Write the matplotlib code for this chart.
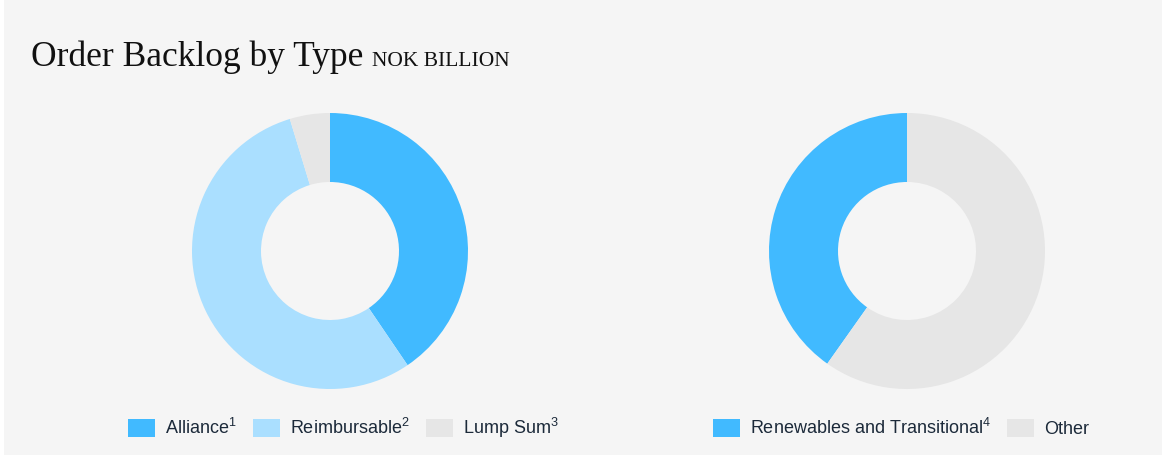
import matplotlib.pyplot as plt
from matplotlib.patches import Rectangle

plt.rcParams['font.family'] = ['Liberation Sans', 'DejaVu Sans']
plt.rcParams['mathtext.fontset'] = 'custom'
plt.rcParams['mathtext.rm'] = 'Liberation Sans'
plt.rcParams['mathtext.it'] = 'Liberation Sans'

# Data (share of order backlog)
type_labels = [r'Alliance$^1$', r'Reimbursable$^2$', r'Lump Sum$^3$']
type_values = [40.5, 54.8, 4.7]
type_colors = ['#41baff', '#aadfff', '#e6e6e6']

green_labels = [r'Renewables and Transitional$^4$', 'Other']
green_values = [40.2, 59.8]
green_colors = ['#41baff', '#e6e6e6']

W, H = 1166, 461
fig = plt.figure(figsize=(W / 100, H / 100), dpi=100)
fig.patch.set_facecolor('white')
fig.add_artist(Rectangle((4 / W, 6 / H), (W - 8) / W, (H - 6) / H,
                         transform=fig.transFigure, facecolor='#f5f5f5',
                         edgecolor='none', zorder=0))

# Title
title = fig.text(31 / W, 1 - 66 / H, 'Order Backlog by Type', family='Liberation Serif',
                 fontsize=25.5, color='#111111', va='baseline', ha='left')
fig.canvas.draw()
bb = title.get_window_extent()
fig.text(bb.x1 / W + 9 / W, 1 - 66 / H, 'NOK BILLION', family='Liberation Serif',
         fontsize=15.5, color='#111111', va='baseline', ha='left')


def donut(cx, cy, values, colors, counterclock):
    r = 138
    box = 150
    ax = fig.add_axes([(cx - box) / W, 1 - (cy + box) / H, 2 * box / W, 2 * box / H])
    wedges, _ = ax.pie(values, colors=colors, startangle=90, counterclock=counterclock,
                       radius=1, wedgeprops=dict(width=0.5, edgecolor='none'))
    ax.set_xlim(-box / r, box / r)
    ax.set_ylim(-box / r, box / r)
    ax.set_aspect('equal')
    ax.axis('off')
    return wedges


w1 = donut(330, 251, type_values, type_colors, counterclock=False)
w2 = donut(907, 251, green_values, green_colors, counterclock=True)

leg_kw = dict(loc='center', frameon=False, fontsize=13, handlelength=1.5,
              handleheight=1.1, handletextpad=0.55, columnspacing=0.9,
              labelcolor='#1c2a3a')
fig.legend(w1, type_labels, ncol=3, bbox_to_anchor=(343 / W, 1 - 428 / H), **leg_kw)
fig.legend(w2, green_labels, ncol=2, bbox_to_anchor=(901 / W, 1 - 428 / H), **leg_kw)

fig.savefig('out.png', dpi=100, facecolor=fig.get_facecolor())
